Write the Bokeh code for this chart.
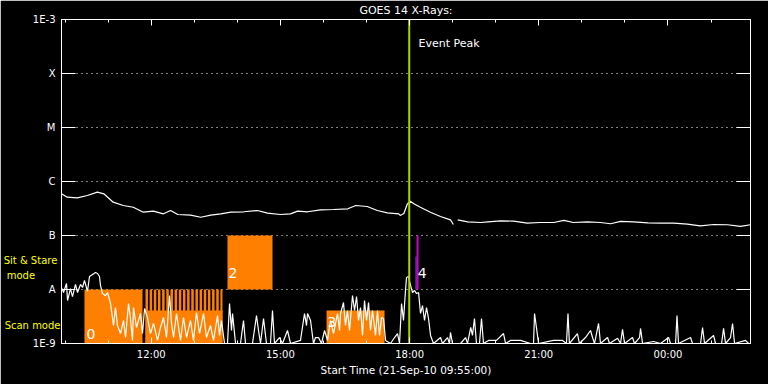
from bokeh.plotting import figure
from bokeh.models import (FixedTicker, LinearAxis, LogAxis, Label, Range1d,
                          CustomLabelingPolicy)
from bokeh.embed import file_html
from bokeh.resources import INLINE
from bokeh.core.properties import value

# ---------------- data ----------------
start_clock = "09:55"
span_minutes = 960  # 16 hours shown

time_tick_labels = ["12:00", "15:00", "18:00", "21:00", "00:00"]
hour_minor_labels = ["10:00", "11:00", "12:00", "13:00", "14:00", "15:00", "16:00",
                     "17:00", "18:00", "19:00", "20:00", "21:00", "22:00", "23:00",
                     "00:00", "01:00"]

flux_levels = [1e-9, 1e-8, 1e-7, 1e-6, 1e-5, 1e-4, 1e-3]
flux_level_labels = ["1E-9", "A", "B", "C", "M", "X", "1E-3"]
grid_levels = [1e-8, 1e-7, 1e-6, 1e-5, 1e-4]

# observing-mode captions on the left, and the flux level each one sits at
caption_texts = ["Sit & Stare\u00a0", "mode" + "\u00a0" * 8, "Scan mode"]
caption_levels = [3.44e-8, 1.82e-8, 2.11e-9]

# GOES 1-8 A channel: (minutes after start, flux W/m^2); None = data gap
long_channel = [
    (0, 5.92e-7), (8, 5.12e-7), (22, 4.99e-7), (36, 5.51e-7), (50, 6.34e-7),
    (59, 5.92e-7), (72, 4.14e-7), (86, 3.59e-7), (100, 3.34e-7), (114, 2.70e-7),
    (128, 2.82e-7), (142, 2.52e-7), (152, 2.90e-7), (162, 2.45e-7), (180, 2.38e-7),
    (194, 2.18e-7), (208, 2.38e-7), (222, 2.52e-7), (236, 2.70e-7), (254, 2.75e-7),
    (273, 2.90e-7), (287, 2.59e-7), (305, 2.45e-7), (319, 2.52e-7), (329, 2.82e-7),
    (343, 2.75e-7), (361, 2.99e-7), (379, 3.03e-7), (399, 3.12e-7), (410, 3.59e-7),
    (426, 3.44e-7), (440, 2.90e-7), (454, 2.63e-7), (470, 2.52e-7), (472, 2.35e-7),
    (477, 2.55e-7), (482, 3.86e-7), (486, 4.32e-7), (491, 3.86e-7), (500, 3.34e-7),
    (514, 2.70e-7), (528, 2.25e-7), (542, 1.95e-7), (546, 1.60e-7), (548, None),
    (552, 1.95e-7), (566, 1.79e-7), (584, 1.74e-7), (594, 1.79e-7), (612, 1.86e-7),
    (630, 1.85e-7), (649, 1.69e-7), (667, 1.74e-7), (686, 1.74e-7), (700, 1.90e-7),
    (713, 1.74e-7), (733, 1.79e-7), (751, 1.74e-7), (765, 1.65e-7), (779, 1.82e-7),
    (797, 1.79e-7), (817, 1.72e-7), (835, 1.69e-7), (853, 1.69e-7), (872, 1.62e-7),
    (890, 1.51e-7), (909, 1.60e-7), (928, 1.58e-7), (946, 1.47e-7), (960, 1.58e-7),
]

# GOES 0.5-4 A channel: (minutes after start, flux W/m^2)
short_channel = [
    (0, 1.09e-8), (2.8, 8.8e-9), (7.0, 1.29e-8), (8.4, 6.26e-9), (12.5, 1.04e-8),
    (15.3, 7.4e-9), (19.5, 1.24e-8), (22.3, 8.8e-9), (26.5, 1.24e-8), (29.3, 1.09e-8),
    (32.0, 1.47e-8), (36.2, 9.2e-9), (39.0, 1.74e-8), (43.2, 1.9e-8), (47.4, 2.06e-8),
    (50.2, 1.98e-8), (52.9, 1.74e-8), (54.3, 1.19e-8), (57.1, 8.4e-9), (61.3, 7.7e-9),
    (64.1, 8.8e-9), (68.3, 5.5e-9), (72.5, 2.15e-9), (75.2, 4.64e-9), (78.0, 2.15e-9),
    (82.2, 1.53e-9), (86.4, 2.67e-9), (89.2, 1.29e-9), (93.4, 5.5e-9), (96.1, 2.9e-9),
    (98.9, 1.14e-9), (100.3, 4.64e-9), (104.5, 1.98e-9), (110.1, 3.59e-9), (112.9, 1.53e-9),
    (115.7, 4.45e-9), (119.8, 3.03e-9), (124.0, 1.53e-9), (128.2, 2.35e-9), (133.8, 1.14e-9),
    (137.9, 1.98e-9), (142.1, 3.03e-9), (146.3, 1.29e-9), (150.5, 7.74e-9), (153.3, 2.35e-9),
    (156.1, 1.29e-9), (160.2, 3.59e-9), (165.8, 1.14e-9), (170.0, 3.03e-9), (174.2, 1.29e-9),
    (179.7, 2.67e-9), (183.9, 1.14e-9), (188.1, 3.75e-9), (192.3, 1.53e-9), (197.9, 3.59e-9),
    (202.0, 1.29e-9), (207.6, 2.15e-9), (211.8, 1.14e-9), (217.4, 3.3e-9), (220.2, 1.41e-9),
    (222.9, 2.67e-9), (227.1, 1e-9), (231.3, 1e-9), (234.1, 5.5e-9), (236.9, 1.74e-9),
    (238.3, 3.59e-9), (242.5, 1e-9), (249.4, 1e-9), (253.6, 2.67e-9), (256.4, 1e-9),
    (266.1, 1e-9), (271.7, 3.3e-9), (274.5, 1.74e-9), (277.3, 1e-9), (281.5, 2.9e-9),
    (285.6, 1e-9), (291.2, 1e-9), (294.0, 4.08e-9), (296.8, 1e-9), (303.8, 1.29e-9),
    (307.9, 1e-9), (314.9, 1.74e-9), (319.1, 1e-9), (333.0, 1.14e-9), (338.6, 3.59e-9),
    (341.4, 2.15e-9), (342.8, 3.59e-9), (347.0, 2.67e-9), (351.1, 1e-9), (353.9, 1.29e-9),
    (358.1, 1.29e-9), (362.3, 1e-9), (366.5, 1.74e-9), (370.6, 1.14e-9), (374.8, 2.67e-9),
    (379.0, 1.53e-9), (384.6, 3.59e-9), (387.4, 1.74e-9), (388.8, 3.59e-9), (392.9, 5.74e-9),
    (395.7, 2.15e-9), (398.5, 4.08e-9), (401.3, 1.74e-9), (405.5, 7.74e-9), (408.3, 4.08e-9),
    (411.1, 7.4e-9), (413.8, 2.67e-9), (416.6, 4.64e-9), (419.4, 1.41e-9), (422.2, 6.26e-9),
    (425.0, 2.67e-9), (427.8, 5.74e-9), (430.6, 1.74e-9), (433.3, 4.08e-9), (437.5, 1.41e-9),
    (440.3, 4.08e-9), (443.1, 1.41e-9), (445.9, 3.03e-9), (448.7, 2.9e-9), (451.5, 1.14e-9),
    (458.4, 1e-9), (464.0, 1.29e-9), (468.2, 1.53e-9), (471.0, 1e-9), (473.8, 5.5e-9),
    (476.5, 2.67e-9), (479.3, 9.58e-9), (480.7, 1.67e-8), (483.5, 1.74e-8), (486.3, 1.19e-8),
    (489.1, 8.8e-9), (491.9, 9.58e-9), (494.7, 8.4e-9), (497.5, 8.8e-9), (500.2, 3.59e-9),
    (503.0, 5.05e-9), (505.8, 2.67e-9), (508.6, 4.64e-9), (511.4, 2.9e-9), (514.2, 1.41e-9),
    (518.3, 1e-9), (528.1, 1.29e-9), (530.9, 1e-9), (537.8, 1.29e-9), (540.6, 1e-9),
    (542.0, 1.6e-9), (544.8, 1e-9), (556.0, 1e-9), (563.0, 1.29e-9), (565.7, 1e-9),
    (570.2, 1.98e-9), (572.6, 1.41e-9), (575.4, 2.9e-9), (578.2, 1e-9), (582.4, 1e-9),
    (585.2, 2.9e-9), (588.0, 1e-9), (595.0, 1.14e-9), (606.1, 1.14e-9), (615.9, 1.53e-9),
    (618.7, 1e-9), (625.6, 1.14e-9), (639.6, 1.14e-9), (653.5, 1e-9), (657.7, 1e-9),
    (659.1, 3.59e-9), (661.9, 1.9e-9), (664.7, 1e-9), (685.5, 1.14e-9), (698.1, 1.14e-9),
    (703.6, 1e-9), (705.7, 3.59e-9), (707.7, 1e-9), (718.9, 1.53e-9), (721.6, 1e-9),
    (730.1, 1.29e-9), (737.1, 1.74e-9), (739.9, 1.29e-9), (742.7, 1e-9), (748.3, 2.35e-9),
    (751.0, 1e-9), (760.8, 1.29e-9), (763.6, 1e-9), (774.8, 1.25e-9), (778.9, 1e-9),
    (781.7, 1.82e-9), (784.5, 1e-9), (795.6, 1.29e-9), (798.4, 1e-9), (805.4, 1.29e-9),
    (806.8, 1.9e-9), (809.6, 1e-9), (824.9, 1.09e-9), (834.7, 1e-9), (845.8, 1.29e-9),
    (848.6, 1e-9), (855.6, 1e-9), (857.6, 3.3e-9), (859.7, 1e-9), (876.5, 1.29e-9),
    (879.2, 1e-9), (890.4, 1e-9), (893.2, 1.98e-9), (896.0, 1e-9), (908.5, 1.41e-9),
    (911.3, 1e-9), (919.7, 1e-9), (922.5, 1.9e-9), (925.2, 1e-9), (932.2, 1.29e-9),
    (935.0, 2.35e-9), (937.8, 1e-9), (953.1, 1.14e-9), (957.3, 1e-9), (960, 1e-9),
]

# observing-mode blocks (minutes after start; flux range)
mode_start = [32.0, 117.0, 231.3, 369.3]
mode_end = [112.9, 224.3, 294.0, 450.1]
mode_low = [1e-9, 1e-9, 1e-8, 1e-9]
mode_high = [1e-8, 4.1e-9, 1e-7, 4.1e-9]

scan_start = [117.0, 122.8, 128.6, 134.4, 140.2, 146.0, 151.8, 157.6, 163.4, 169.2,
              175.0, 180.8, 186.6, 192.4, 198.2, 204.0, 209.8, 215.6, 221.4]
scan_end = [120.5, 126.3, 132.1, 137.9, 143.7, 149.5, 155.3, 161.1, 166.9, 172.7,
            178.5, 184.3, 190.1, 195.9, 201.7, 207.5, 213.3, 219.1, 224.3]

block_ids = ["0", "2", "3", "4"]
block_id_time = [35.0, 232.7, 370.6, 496.5]
block_id_flux = [1.53e-9, 2.06e-8, 2.55e-9, 2.06e-8]

event4_start = [493.3, 494.7]
event4_end = [494.7, 497.5]
event4_high = [4.08e-8, 1e-7]

event_peak_time = 484.5

# ---------------- helpers ----------------
def minutes_after_start(clock):
    h, m = map(int, clock.split(":"))
    h0, m0 = map(int, start_clock.split(":"))
    return ((h * 60 + m) - (h0 * 60 + m0)) % 1440

major_ticks = [minutes_after_start(s) for s in time_tick_labels]
minor_ticks = [minutes_after_start(s) for s in hour_minor_labels]

FONT = "DejaVu Sans"
WHITE = "white"
ORANGE = "#ff8000"
GREEN = "#a8d400"
YELLOW = "#ffff00"

p = figure(frame_width=689, frame_height=324,
           x_range=Range1d(0, span_minutes), y_range=Range1d(1e-9, 1e-3),
           y_axis_type="log", output_backend="svg", toolbar_location=None,
           min_border_left=61, min_border_right=18, min_border_top=19,
           min_border_bottom=41, background_fill_color="black",
           border_fill_color="black", outline_line_color=WHITE,
           x_axis_location=None, y_axis_location=None)

# grid
p.xgrid.visible = False
p.ygrid.ticker = FixedTicker(ticks=grid_levels)
p.ygrid.grid_line_color = WHITE
p.ygrid.grid_line_dash = "1 4"
p.ygrid.grid_line_width = 1

# axes
time_ticker = FixedTicker(ticks=major_ticks, minor_ticks=minor_ticks)
flux_ticker = FixedTicker(ticks=flux_levels, minor_ticks=[])
no_labels = CustomLabelingPolicy(
    code="for (let i = 0; i < indices.size; i++) { indices.unset(i) }; return indices")

def style_axis(ax):
    ax.axis_line_color = WHITE
    ax.major_tick_line_color = WHITE
    ax.minor_tick_line_color = WHITE
    ax.major_tick_out = 0
    ax.minor_tick_out = 0
    ax.major_label_text_color = WHITE
    ax.major_label_text_font = FONT
    ax.major_label_text_font_size = "10px"
    ax.axis_label_text_color = WHITE
    ax.axis_label_text_font = FONT
    ax.axis_label_text_font_size = "10px"
    ax.axis_label_text_font_style = "normal"

bottom = LinearAxis(ticker=time_ticker,
                    major_label_overrides=dict(zip(major_ticks, time_tick_labels)),
                    axis_label="Start Time (21-Sep-10 09:55:00)")
style_axis(bottom)
bottom.major_tick_in = 6
bottom.minor_tick_in = 3
bottom.major_label_standoff = 5
bottom.axis_label_standoff = 1
bottom.axis_label_text_font_size = "10.5px"
p.add_layout(bottom, "below")

# top axis carries the chart title as its axis label
top = LinearAxis(ticker=time_ticker, major_label_policy=no_labels,
                 axis_label="GOES 14 X-Rays:")
style_axis(top)
top.major_tick_in = 6
top.minor_tick_in = 3
top.major_label_standoff = 0
top.major_label_text_font_size = "1px"
top.axis_label_text_font_size = "11px"
top.axis_label_standoff = -1
p.add_layout(top, "above")

left = LogAxis(ticker=flux_ticker,
               major_label_overrides=dict(zip(flux_levels, flux_level_labels)))
style_axis(left)
left.major_tick_in = 14
left.minor_tick_line_color = None
left.major_label_standoff = 6
p.add_layout(left, "left")

# yellow observing-mode captions: a tick-less second left axis
captions = LogAxis(ticker=FixedTicker(ticks=caption_levels, minor_ticks=[]),
                   major_label_overrides=dict(zip(caption_levels, caption_texts)))
style_axis(captions)
captions.axis_line_color = None
captions.major_tick_line_color = None
captions.minor_tick_line_color = None
captions.major_tick_in = 0
captions.major_label_text_color = YELLOW
captions.major_label_standoff = -31
p.add_layout(captions, "left")

right = LogAxis(ticker=flux_ticker, major_label_policy=no_labels)
style_axis(right)
right.major_tick_in = 14
right.minor_tick_line_color = None
right.major_label_standoff = 0
right.major_label_text_font_size = "1px"
p.add_layout(right, "right")

# observing-mode blocks
p.quad(left=mode_start, right=mode_end, bottom=mode_low, top=mode_high,
       fill_color=ORANGE, line_color=None)
p.quad(left=scan_start, right=scan_end, bottom=[1e-9] * len(scan_start),
       top=[1e-8] * len(scan_start), fill_color=ORANGE, line_color=None)
p.quad(left=event4_start, right=event4_end, bottom=[1e-8, 1e-8], top=event4_high,
       fill_color=["#8c50f0", "#cc00cc"], line_color=None)

# light curves
lt = [t for t, f in long_channel]
lf = [float("nan") if f is None else f for t, f in long_channel]
p.line(lt, lf, line_color=WHITE, line_width=1.2)
st = [t for t, f in short_channel]
sf = [f for t, f in short_channel]
p.line(st, sf, line_color=WHITE, line_width=1.2)

# block numbers
p.text(x=block_id_time, y=block_id_flux, text=block_ids, text_color=WHITE,
       text_font=value(FONT), text_font_size="14px", text_align="left",
       text_baseline="middle")

# event peak line
p.segment(x0=[event_peak_time], x1=[event_peak_time], y0=[1e-9], y1=[1e-3],
          line_color=GREEN, line_width=2)
p.add_layout(Label(x=event_peak_time + 13, y=3.59e-4, text="Event Peak",
                   text_color=WHITE, text_font=FONT, text_font_size="11px",
                   text_baseline="middle"))

open("out.html", "w").write(file_html(p, INLINE))
